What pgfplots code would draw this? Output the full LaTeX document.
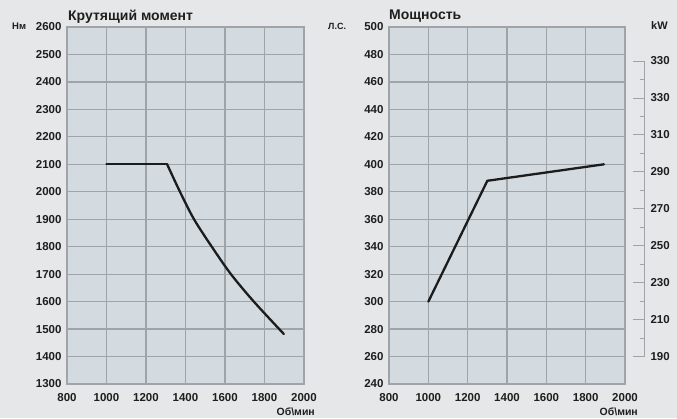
\documentclass[border=0pt]{standalone}
\usepackage{fontspec}
\setmainfont{Liberation Sans}
\usepackage{pgfplots}
\pgfplotsset{compat=1.18}
\definecolor{bg}{HTML}{E6E7E8}
\definecolor{plotbg}{HTML}{D3DAE0}
\definecolor{gridc}{HTML}{A0A4A8}
\definecolor{curve}{HTML}{1C1C1C}
\definecolor{txt}{HTML}{1E1E1E}

\pgfplotsset{
  base/.style={
    scale only axis, anchor=south west,
    width=237pt, height=357pt,
    xmin=800, xmax=2000, xtick={800,1000,...,2000},
    grid=major,
    major grid style={gridc, line width=1.3pt},
    axis line style={gridc, line width=1.3pt},
    axis background/.style={fill=plotbg},
    major tick length=0pt, tick style={draw=none},
    /pgf/number format/assume math mode=true,
    /pgf/number format/1000 sep={},
    ticklabel style={font=\fontsize{11.5}{11.5}\selectfont\bfseries, text=txt},
    xticklabel style={yshift=-5.5pt},
    yticklabel style={xshift=-2pt},
  }
}

\begin{document}
\begin{tikzpicture}
\fill[bg] (0,0) rectangle (677pt,418pt);
\useasboundingbox (0,0) rectangle (677pt,418pt);

% Torque
\begin{axis}[base, at={(67pt,34pt)},
  ymin=1300, ymax=2600, ytick={1300,1400,...,2600}]
\addplot[curve, line width=2.3pt, line cap=round] coordinates {(1000,2100) (1307,2100)};
\addplot[curve, line width=2.3pt, line cap=round, smooth] coordinates {
  (1307,2100) (1372,2000) (1443,1900) (1533,1800) (1630,1700) (1746,1600) (1898,1482)};
\end{axis}

% Power
\begin{axis}[base, at={(389pt,34pt)}, width=236pt,
  ymin=240, ymax=500, ytick={240,260,...,500}]
\addplot[curve, line width=2.3pt, line cap=round, line join=miter] coordinates {
  (1000,300) (1300,388) (1893,400)};
\end{axis}

% kW scale
\begin{axis}[scale only axis, anchor=south west, at={(634pt,61.3pt)},
  width=10pt, height=295.7pt,
  xmin=0, xmax=1, ymin=190, ymax=350,
  axis x line=none, axis y line*=right,
  axis line style={gridc, line width=0.9pt},
  ytick={190,210,...,350},
  yticklabels={190,210,230,250,270,290,310,330,330},
  minor ytick={200,220,...,340},
  tick align=inside,
  major tick length=11pt, minor tick length=4.5pt,
  every tick/.style={gridc, line width=0.9pt},
  /pgf/number format/assume math mode=true,
  yticklabel style={font=\fontsize{11.5}{11.5}\selectfont\bfseries, text=txt, anchor=west, xshift=3pt},
]
\addplot[draw=none] coordinates {(0,190)};
\end{axis}

% Titles and unit labels
\node[anchor=base west, inner sep=0, font=\fontsize{14}{14}\selectfont\bfseries, text=txt] at (68pt,397.5pt) {Крутящий момент};
\node[anchor=base west, inner sep=0, font=\fontsize{14}{14}\selectfont\bfseries, text=txt] at (389pt,398pt) {Мощность};
\node[anchor=base west, inner sep=0, font=\fontsize{9.5}{9.5}\selectfont\bfseries, text=txt] at (12pt,388pt) {Нм};
\node[anchor=base west, inner sep=0, font=\fontsize{9}{9}\selectfont\bfseries, text=txt] at (328pt,388pt) {Л.С.};
\node[anchor=base west, inner sep=0, font=\fontsize{11}{11}\selectfont\bfseries, text=txt] at (651pt,388pt) {kW};
\node[anchor=base east, inner sep=0, font=\fontsize{10.5}{10.5}\selectfont\bfseries, text=txt] at (315pt,3pt) {Об\textbackslash мин};
\node[anchor=base east, inner sep=0, font=\fontsize{10.5}{10.5}\selectfont\bfseries, text=txt] at (638pt,3pt) {Об\textbackslash мин};
\end{tikzpicture}
\end{document}
